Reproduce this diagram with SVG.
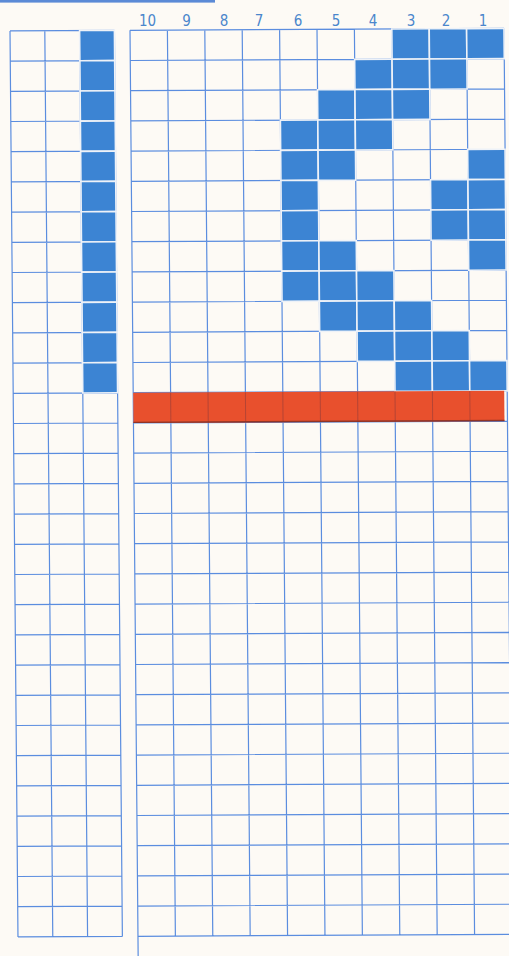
<svg xmlns="http://www.w3.org/2000/svg" width="509" height="956" viewBox="0 0 509 956">
<style>
.grid{fill:none;stroke:#5b8ddf;stroke-width:1.2}
.cell{fill:#3c84d3;stroke:#eef2f8;stroke-width:1.6}
.num{font-family:"DejaVu Sans Condensed","DejaVu Sans",sans-serif;font-size:15px;fill:#4a86cc;text-anchor:middle}
.dark{fill:none;stroke:#8d3a3a;stroke-width:1;opacity:.55}
</style>
<rect width="509" height="956" fill="#fdfaf5"/>
<rect x="0" y="0" width="215" height="2.6" fill="#5b8ad6"/>
<g id="labels">
<text class="num" x="147.5" y="26">10</text>
<text class="num" x="186.5" y="26">9</text>
<text class="num" x="224" y="26">8</text>
<text class="num" x="259" y="26">7</text>
<text class="num" x="298" y="26">6</text>
<text class="num" x="336" y="26">5</text>
<text class="num" x="373" y="26">4</text>
<text class="num" x="411" y="26">3</text>
<text class="num" x="446" y="26">2</text>
<text class="num" x="483" y="26">1</text>
</g>
<g transform="matrix(1,-0.005,0.0088,1,-0.264,0.65)">
<g id="left-grid">
<path class="grid" d="M10 30.3H114.4M10 60.5H114.4M10 90.7H114.4M10 120.9H114.4M10 151.1H114.4M10 181.3H114.4M10 211.5H114.4M10 241.7H114.4M10 271.9H114.4M10 302.1H114.4M10 332.3H114.4M10 362.5H114.4M10 392.7H114.4M10 422.9H114.4M10 453.1H114.4M10 483.3H114.4M10 513.5H114.4M10 543.7H114.4M10 573.9H114.4M10 604.1H114.4M10 634.3H114.4M10 664.5H114.4M10 694.7H114.4M10 724.9H114.4M10 755.1H114.4M10 785.3H114.4M10 815.5H114.4M10 845.7H114.4M10 875.9H114.4M10 906.1H114.4M10 936.3H114.4M10 30.3V936.3M44.8 30.3V936.3M79.6 30.3V936.3M114.4 30.3V936.3"/>
<g id="left-cells">
<rect class="cell" x="79.6" y="30.3" width="34.8" height="30.2"/>
<rect class="cell" x="79.6" y="60.5" width="34.8" height="30.2"/>
<rect class="cell" x="79.6" y="90.7" width="34.8" height="30.2"/>
<rect class="cell" x="79.6" y="120.9" width="34.8" height="30.2"/>
<rect class="cell" x="79.6" y="151.1" width="34.8" height="30.2"/>
<rect class="cell" x="79.6" y="181.3" width="34.8" height="30.2"/>
<rect class="cell" x="79.6" y="211.5" width="34.8" height="30.2"/>
<rect class="cell" x="79.6" y="241.7" width="34.8" height="30.2"/>
<rect class="cell" x="79.6" y="271.9" width="34.8" height="30.2"/>
<rect class="cell" x="79.6" y="302.1" width="34.8" height="30.2"/>
<rect class="cell" x="79.6" y="332.3" width="34.8" height="30.2"/>
<rect class="cell" x="79.6" y="362.5" width="34.8" height="30.2"/>
</g>
</g>
<g id="right-grid">
<path class="grid" d="M130 30.3H504M130 60.5H504M130 90.7H504M130 120.9H504M130 151.1H504M130 181.3H504M130 211.5H504M130 241.7H504M130 271.9H504M130 302.1H504M130 332.3H504M130 362.5H504M130 392.7H504M130 422.9H504M130 453.1H504M130 483.3H504M130 513.5H504M130 543.7H504M130 573.9H504M130 604.1H504M130 634.3H504M130 664.5H504M130 694.7H504M130 724.9H504M130 755.1H504M130 785.3H504M130 815.5H504M130 845.7H504M130 875.9H504M130 906.1H504M130 936.3H504M130 30.3V965M167.4 30.3V936.3M204.8 30.3V936.3M242.2 30.3V936.3M279.6 30.3V936.3M317 30.3V936.3M354.4 30.3V936.3M391.8 30.3V936.3M429.2 30.3V936.3M466.6 30.3V936.3M504 30.3V936.3"/>
<g id="right-cells">
<rect class="cell" x="391.8" y="30.3" width="37.4" height="30.2"/>
<rect class="cell" x="429.2" y="30.3" width="37.4" height="30.2"/>
<rect class="cell" x="466.6" y="30.3" width="37.4" height="30.2"/>
<rect class="cell" x="354.4" y="60.5" width="37.4" height="30.2"/>
<rect class="cell" x="391.8" y="60.5" width="37.4" height="30.2"/>
<rect class="cell" x="429.2" y="60.5" width="37.4" height="30.2"/>
<rect class="cell" x="317" y="90.7" width="37.4" height="30.2"/>
<rect class="cell" x="354.4" y="90.7" width="37.4" height="30.2"/>
<rect class="cell" x="391.8" y="90.7" width="37.4" height="30.2"/>
<rect class="cell" x="279.6" y="120.9" width="37.4" height="30.2"/>
<rect class="cell" x="317" y="120.9" width="37.4" height="30.2"/>
<rect class="cell" x="354.4" y="120.9" width="37.4" height="30.2"/>
<rect class="cell" x="279.6" y="151.1" width="37.4" height="30.2"/>
<rect class="cell" x="317" y="151.1" width="37.4" height="30.2"/>
<rect class="cell" x="466.6" y="151.1" width="37.4" height="30.2"/>
<rect class="cell" x="279.6" y="181.3" width="37.4" height="30.2"/>
<rect class="cell" x="429.2" y="181.3" width="37.4" height="30.2"/>
<rect class="cell" x="466.6" y="181.3" width="37.4" height="30.2"/>
<rect class="cell" x="279.6" y="211.5" width="37.4" height="30.2"/>
<rect class="cell" x="429.2" y="211.5" width="37.4" height="30.2"/>
<rect class="cell" x="466.6" y="211.5" width="37.4" height="30.2"/>
<rect class="cell" x="279.6" y="241.7" width="37.4" height="30.2"/>
<rect class="cell" x="317" y="241.7" width="37.4" height="30.2"/>
<rect class="cell" x="466.6" y="241.7" width="37.4" height="30.2"/>
<rect class="cell" x="279.6" y="271.9" width="37.4" height="30.2"/>
<rect class="cell" x="317" y="271.9" width="37.4" height="30.2"/>
<rect class="cell" x="354.4" y="271.9" width="37.4" height="30.2"/>
<rect class="cell" x="317" y="302.1" width="37.4" height="30.2"/>
<rect class="cell" x="354.4" y="302.1" width="37.4" height="30.2"/>
<rect class="cell" x="391.8" y="302.1" width="37.4" height="30.2"/>
<rect class="cell" x="354.4" y="332.3" width="37.4" height="30.2"/>
<rect class="cell" x="391.8" y="332.3" width="37.4" height="30.2"/>
<rect class="cell" x="429.2" y="332.3" width="37.4" height="30.2"/>
<rect class="cell" x="391.8" y="362.5" width="37.4" height="30.2"/>
<rect class="cell" x="429.2" y="362.5" width="37.4" height="30.2"/>
<rect class="cell" x="466.6" y="362.5" width="37.4" height="30.2"/>
</g>
<g id="red-band">
<rect x="130" y="392.7" width="371" height="30.2" fill="#e8502d"/>
<path class="dark" d="M167.4 392.7V422.9M204.8 392.7V422.9M242.2 392.7V422.9M279.6 392.7V422.9M317 392.7V422.9M354.4 392.7V422.9M391.8 392.7V422.9M429.2 392.7V422.9M466.6 392.7V422.9"/>
<path d="M130 422.4H501" stroke="#8e3427" stroke-width="1.4" fill="none"/>
</g>
</g>
</g>
</svg>
